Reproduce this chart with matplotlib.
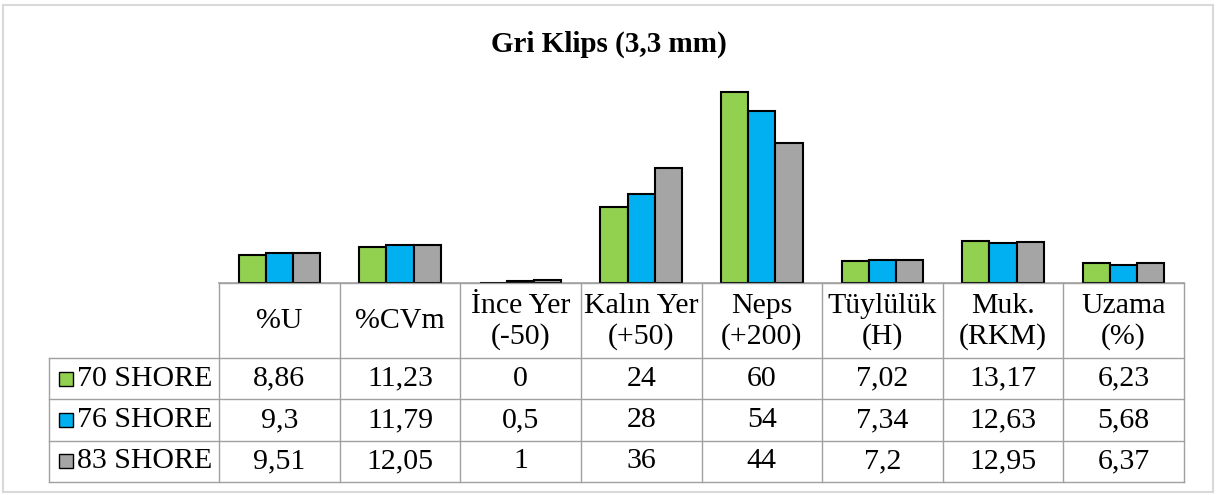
import numpy as np
import matplotlib
matplotlib.use("Agg")
import matplotlib.pyplot as plt
from matplotlib.patches import Rectangle

# Data
categories = ["%U", "%CVm", "İnce Yer\n(-50)", "Kalın Yer\n(+50)", "Neps\n(+200)",
              "Tüylülük\n(H)", "Muk.\n(RKM)", "Uzama\n(%)"]
series_names = ["70 SHORE", "76 SHORE", "83 SHORE"]
s70 = [8.86, 11.23, 0, 24, 60, 7.02, 13.17, 6.23]
s76 = [9.3, 11.79, 0.5, 28, 54, 7.34, 12.63, 5.68]
s83 = [9.51, 12.05, 1, 36, 44, 7.2, 12.95, 6.37]
colors = ["#92d050", "#00b0f0", "#a5a5a5"]
title = "Gri Klips (3,3 mm)"

W, H = 1223, 495
plt.rcParams["font.family"] = ["Liberation Serif", "DejaVu Serif"]
fig = plt.figure(figsize=(W / 100, H / 100), dpi=100)

# layout in pixels
tab_left, tab_first, tab_right = 49, 219, 1184
head_top, head_bot = 283, 358
row_h = 41.3
plot_top = 60


def fx(px):
    return px / W


def fy(py):
    return 1 - py / H


# bar axes
ax = fig.add_axes([fx(tab_first), fy(head_top), fx(tab_right - tab_first),
                   (head_top - plot_top) / H])
x = np.arange(len(categories))
bw = 0.225
for i, (vals, col) in enumerate(zip([s70, s76, s83], colors)):
    ax.bar(x + (i - 1) * bw, vals, bw, color=col, edgecolor="black",
           linewidth=1.5, zorder=3)
ax.set_xlim(-0.5, len(categories) - 0.5)
ax.set_ylim(0, 70)
for sp in ["top", "left", "right"]:
    ax.spines[sp].set_visible(False)
ax.spines["bottom"].set_color("#a6a6a6")
ax.spines["bottom"].set_linewidth(1.2)
ax.set_xticks([])
ax.set_yticks([])
ax.patch.set_alpha(0)

# overlay axes for title, table, frame
ov = fig.add_axes([0, 0, 1, 1])
ov.set_xlim(0, W)
ov.set_ylim(H, 0)
ov.axis("off")
ov.patch.set_alpha(0)

ov.add_patch(Rectangle((3, 5), 1210, 487, fill=False, edgecolor="#d9d9d9",
                       linewidth=1.5))
ov.text(W / 2 - 3, 44, title, ha="center", va="center", fontsize=21,
        fontweight="bold")

line_kw = dict(color="#a0a0a0", linewidth=1.0)
col_w = (tab_right - tab_first) / len(categories)
bottom = head_bot + 3 * row_h
# horizontal lines
ov.plot([tab_first, tab_right], [head_top, head_top], **line_kw)
for r in range(4):
    yy = head_bot + r * row_h
    ov.plot([tab_left, tab_right], [yy, yy], **line_kw)
# vertical lines
ov.plot([tab_left, tab_left], [head_bot, bottom], **line_kw)
for c in range(len(categories) + 1):
    xx = tab_first + c * col_w
    ov.plot([xx, xx], [head_top, bottom], **line_kw)

fs = 21.5
for c, lab in enumerate(categories):
    ov.text(tab_first + (c + 0.5) * col_w, (head_top + head_bot) / 2 + 1, lab,
            ha="center", va="center", fontsize=fs, linespacing=1.2)


def fmt(v):
    if v == int(v):
        return str(int(v))
    return str(v).replace(".", ",")


for r, (name, vals, col) in enumerate(zip(series_names, [s70, s76, s83], colors)):
    yc = head_bot + (r + 0.5) * row_h
    ov.add_patch(Rectangle((59, yc - 7), 14, 14, facecolor=col,
                           edgecolor="black", linewidth=1.0))
    ov.text(77, yc, name, ha="left", va="center", fontsize=fs)
    for c, v in enumerate(vals):
        ov.text(tab_first + (c + 0.5) * col_w, yc, fmt(v), ha="center",
                va="center", fontsize=fs)

fig.savefig("out.png", dpi=100, facecolor="white")
